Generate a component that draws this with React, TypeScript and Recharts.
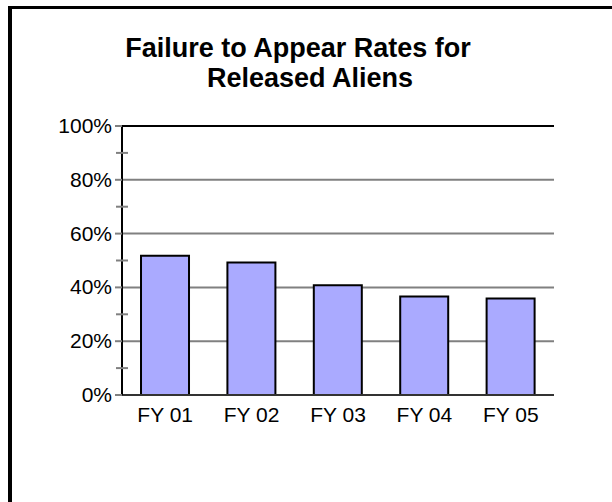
import React from "react";
import {
    BarChart,
    Bar,
    XAxis,
    YAxis,
    CartesianGrid,
    ReferenceLine,
} from "recharts";

const years = ["FY 01", "FY 02", "FY 03", "FY 04", "FY 05"];
const rates = [51.8, 49.3, 40.8, 36.6, 35.9];
const yTicks = [0, 10, 20, 30, 40, 50, 60, 70, 80, 90, 100];
const labelTicks = [0, 20, 40, 60, 80, 100];
const edgeTicks = [0, 1, 2, 3, 4, 5];
const titleLines = ["Failure to Appear Rates for", "Released Aliens"];

const data = years.map((year, i) => ({ year, rate: rates[i] }));

const FONT = "'Liberation Sans', Arial, sans-serif";
const TICK_SIZE = 6;
const TICK_MARGIN = 4;

// y tick: label on every 20%, minor tick crossing the axis on the odd tens
function YTick(props: any) {
    const { x, y, payload } = props;
    const axisX = x + TICK_SIZE + TICK_MARGIN;
    const major = labelTicks.includes(payload.value);
    return (
        <g>
            {major ? (
                <line x1={axisX - 7} x2={axisX} y1={y} y2={y} stroke="#808080" strokeWidth={2} />
            ) : (
                <line x1={axisX - 6} x2={axisX + 6} y1={y} y2={y} stroke="#808080" strokeWidth={2} />
            )}
            {major && (
                <text
                    x={x}
                    y={y}
                    dy={7}
                    textAnchor="end"
                    fill="#000"
                    style={{ fontSize: 21, fontFamily: FONT }}
                >
                    {payload.value + "%"}
                </text>
            )}
        </g>
    );
}

// tick marks between categories, crossing the x axis
function EdgeTick(props: any) {
    const { x, y } = props;
    return <line x1={x} x2={x} y1={y - 7} y2={y + 5} stroke="#808080" strokeWidth={2} />;
}

export default function App() {
    return (
        <div
            style={{
                position: "fixed",
                left: 0,
                top: 0,
                width: 612,
                height: 502,
                background: "#fff",
                overflow: "hidden",
            }}
        >
            {/* frame: only top and left edges show */}
            <div style={{ position: "absolute", left: 8, top: 6, width: 604, height: 3, background: "#000" }} />
            <div style={{ position: "absolute", left: 8, top: 6, width: 4, height: 496, background: "#000" }} />
            {titleLines.map((line, i) => (
                <div
                    key={line}
                    style={{
                        position: "absolute",
                        left: i === 0 ? -12 : 0,
                        top: 33 + i * 30,
                        width: 620,
                        textAlign: "center",
                        fontFamily: FONT,
                        fontWeight: "bold",
                        fontSize: 27,
                        lineHeight: "30px",
                        color: "#000",
                        whiteSpace: "nowrap",
                    }}
                >
                    {line}
                </div>
            ))}
            <div style={{ position: "absolute", left: 0, top: 0 }}>
                <BarChart
                    width={612}
                    height={502}
                    data={data}
                    margin={{ top: 126, right: 58, left: 0, bottom: 77 }}
                    barCategoryGap="22%"
                >
                    <CartesianGrid
                        vertical={false}
                        horizontalValues={[20, 40, 60, 80]}
                        stroke="#808080"
                        strokeWidth={2}
                    />
                    <XAxis
                        xAxisId="edges"
                        type="number"
                        domain={[0, 5]}
                        ticks={edgeTicks}
                        allowDataOverflow
                        height={0}
                        axisLine={false}
                        tickLine={false}
                        tickSize={0}
                        tickMargin={0}
                        tick={<EdgeTick />}
                        interval={0}
                    />
                    <XAxis
                        dataKey="year"
                        height={30}
                        axisLine={{ stroke: "#333", strokeWidth: 2 }}
                        tickLine={false}
                        tickMargin={6}
                        tick={{ fill: "#000", fontSize: 21, fontFamily: FONT }}
                        interval={0}
                    />
                    <YAxis
                        domain={[0, 100]}
                        ticks={yTicks}
                        interval={0}
                        width={122}
                        axisLine={{ stroke: "#000", strokeWidth: 2 }}
                        tickLine={false}
                        tickSize={TICK_SIZE}
                        tickMargin={TICK_MARGIN}
                        tick={<YTick />}
                    />
                    <ReferenceLine y={100} stroke="#000" strokeWidth={2} />
                    <ReferenceLine xAxisId="edges" x={5} stroke="#000" strokeWidth={2} />
                    <Bar
                        dataKey="rate"
                        fill="#AAAAFF"
                        stroke="#000"
                        strokeWidth={2}
                        isAnimationActive={false}
                    />
                </BarChart>
            </div>
        </div>
    );
}
